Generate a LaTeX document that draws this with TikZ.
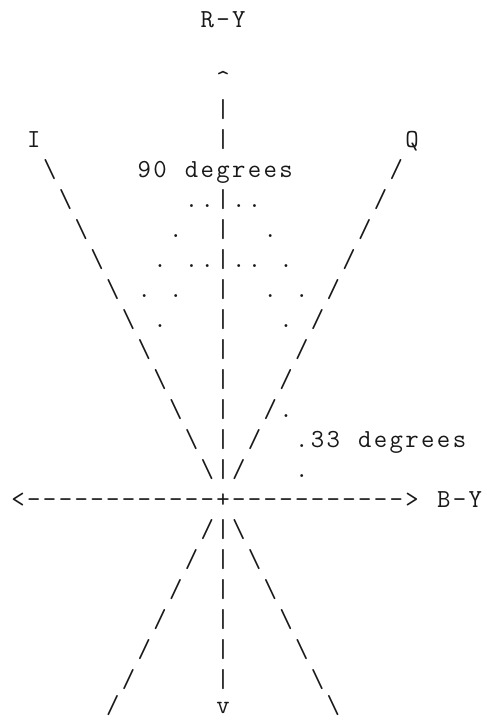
\documentclass[tikz,border=0pt]{standalone}
\usepackage{fontspec}
\makeatletter
\newcommand\cells[1]{\@tfor\cellch:=#1\do{\makebox[15.76pt][c]{\cellch}}}
\makeatother
\newcommand\bs{\textbackslash}
\tikzset{
  asc/.style={anchor=base west, inner sep=0pt, outer sep=0pt,
    font=\ttfamily\fontsize{26}{30}\selectfont, text=black!90},
}
\begin{document}
\begin{tikzpicture}[x=15.76pt, y=-30pt]
\useasboundingbox (0pt,0pt) rectangle (487pt,-721pt);
\begin{scope}[shift={(10.3pt,-27pt)}]
\node[asc] (ry) at (12,0) {\cells{R-Y}};
\node[asc] (caret) at (13,2) {\cells{\textasciicircum}};
\node[asc] (v3) at (13,3) {\cells{|}};
\node[asc] (lI) at (1,4) {\cells{I}};
\node[asc] (v4) at (13,4) {\cells{|}};
\node[asc] (lQ) at (25,4) {\cells{Q}};
\node[asc] (b5) at (2,5) {\cells{\bs}};
\node[asc] (deg90) at (8,5) {\cells{90~degrees}};
\node[asc] (s5) at (24,5) {\cells{/}};
\node[asc] (row6) at (3,6) {\cells{\bs~~~~~~~..|..~~~~~~~/}};
\node[asc] (row7) at (4,7) {\cells{\bs~~~~~.~~|~~.~~~~~/}};
\node[asc] (row8) at (5,8) {\cells{\bs~~~.~..|..~.~~~/}};
\node[asc] (row9) at (6,9) {\cells{\bs~.~.~~|~~.~.~/}};
\node[asc] (row10) at (7,10) {\cells{\bs~.~~~|~~~.~/}};
\node[asc] (row11) at (8,11) {\cells{\bs~~~~|~~~~/}};
\node[asc] (row12) at (9,12) {\cells{\bs~~~|~~~/}};
\node[asc] (row13) at (10,13) {\cells{\bs~~|~~/.}};
\node[asc] (row14) at (11,14) {\cells{\bs~|~/}};
\node[asc] (deg33) at (18,14) {\cells{.33~degrees}};
\node[asc] (row15) at (12,15) {\cells{\bs|/~~~.}};
\node[asc] (axis) at (0,16) {\cells{<------------+----------->}};
\node[asc] (by) at (27,16) {\cells{B-Y}};
\node[asc] (row17) at (12,17) {\cells{/|\bs}};
\node[asc] (row18) at (11,18) {\cells{/~|~\bs}};
\node[asc] (row19) at (10,19) {\cells{/~~|~~\bs}};
\node[asc] (row20) at (9,20) {\cells{/~~~|~~~\bs}};
\node[asc] (row21) at (8,21) {\cells{/~~~~|~~~~\bs}};
\node[asc] (row22) at (7,22) {\cells{/~~~~~|~~~~~\bs}};
\node[asc, yshift=4pt] (row23) at (6,23) {\cells{/~~~~~~v~~~~~~\bs}};
\end{scope}
\end{tikzpicture}
\end{document}
